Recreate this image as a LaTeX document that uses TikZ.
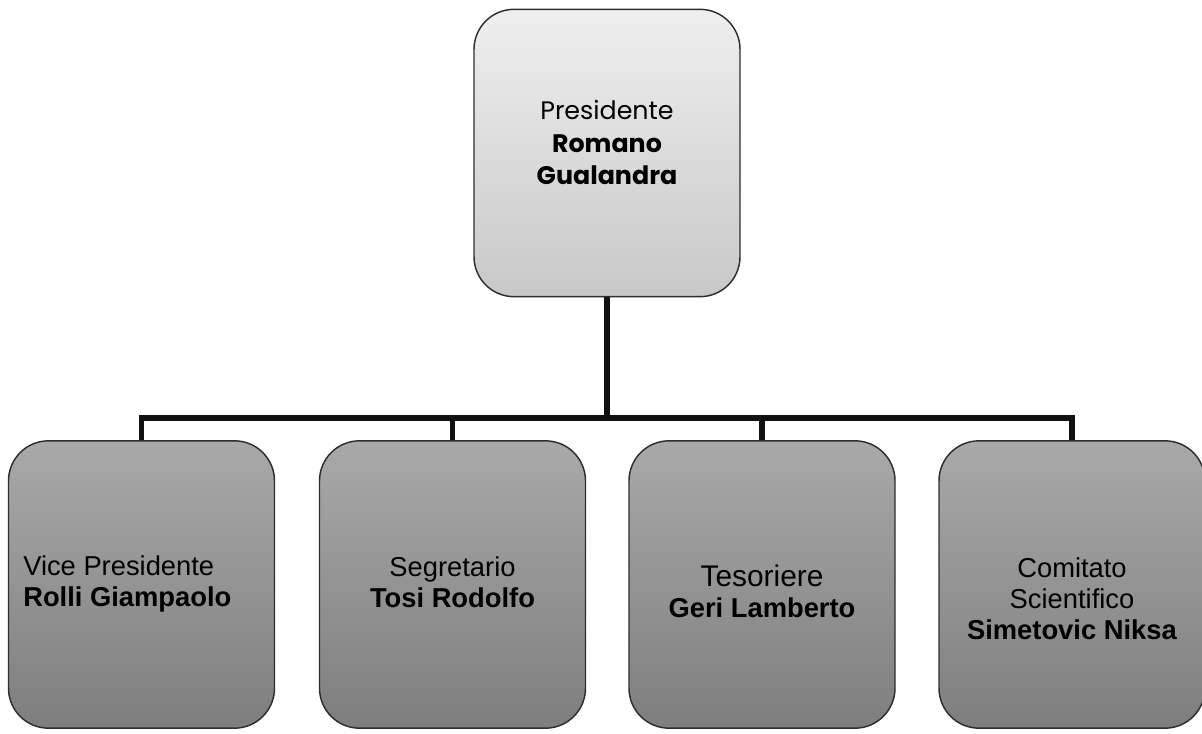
\documentclass[tikz,border=0pt]{standalone}
\usepackage{fontspec}
\setmainfont{Liberation Sans}
\newfontfamily\gothic{Poppins}
\usepackage{tikz}
\usetikzlibrary{calc,positioning}
\definecolor{toptop}{HTML}{EFEFEF}
\definecolor{topbot}{HTML}{C8C8C8}
\definecolor{lowtop}{HTML}{A9A9A9}
\definecolor{lowbot}{HTML}{7E7E7E}
\definecolor{edge}{HTML}{2E2E2E}
\definecolor{wire}{HTML}{111111}

\begin{document}
\begin{tikzpicture}[x=0.75pt,y=-0.75pt,
    card/.style={draw=edge,line width=1.1pt,rounded corners=30pt,minimum width=199.5pt,minimum height=215.5pt,inner sep=0pt},
    headcard/.style={card,top color=toptop,bottom color=topbot},
    staffcard/.style={card,top color=lowtop,bottom color=lowbot},
    txt/.style={inner sep=0pt,align=center,font=\fontsize{20.5}{23.25}\selectfont},
    link/.style={draw=wire,line width=3.9pt}]
  \useasboundingbox (0,0) rectangle (1202,734);
  % boxes
  \node[headcard] (pres) at (607,153) {};
  \node[staffcard] (vice) at (141.5,584.5) {};
  \node[staffcard] (segr) at (452.5,584.5) {};
  \node[staffcard] (teso) at (762,584.5) {};
  \node[staffcard] (comi) at (1072,584.5) {};
  % texts
  \node[txt,anchor=north,font=\gothic\fontsize{19}{24.4}\selectfont] (presT) at (607,100) {Presidente\\\textbf{Romano}\\\textbf{Gualandra}};
  \node[txt,anchor=north west,align=left] (viceT) at (23,555) {Vice Presidente\\\textbf{Rolli Giampaolo}};
  \node[txt,anchor=north] (segrT) at (452.5,556) {Segretario\\\textbf{Tosi Rodolfo}};
  \node[txt,anchor=north] (tesoT) at (762,565) {{\fontsize{22.4}{24.75}\selectfont Tesoriere}\\\textbf{Geri Lamberto}};
  \node[txt,anchor=north] (comiT) at (1072,557) {Comitato\\Scientifico\\\textbf{Simetovic Niksa}};
  % connectors
  \coordinate (bar) at (607,418);
  \draw[link] (pres.south) -- (bar);
  \foreach \b in {vice,segr,teso,comi}
    \draw[link] (bar) -| (\b.north);
\end{tikzpicture}
\end{document}
